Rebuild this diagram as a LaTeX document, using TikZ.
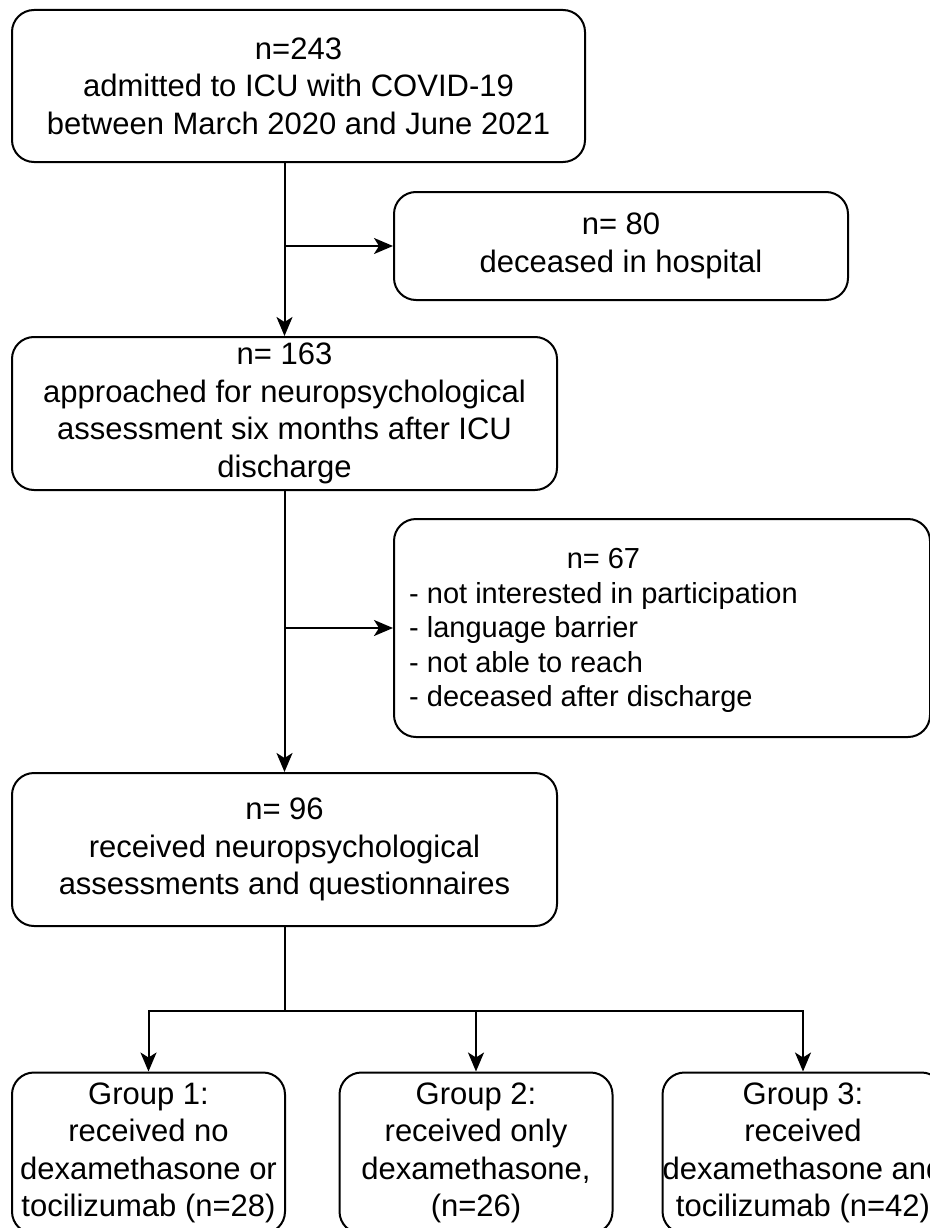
\documentclass[tikz,border=0pt]{standalone}
\usepackage{fontspec}
\setmainfont{Liberation Sans}
\usetikzlibrary{arrows.meta}
\begin{document}
\begin{tikzpicture}[x=1pt,y=-1pt,
  box/.style={draw, line width=2pt, rounded corners=22pt, align=center, inner sep=0pt,
    font=\fontsize{31}{37.5}\selectfont},
  conn/.style={line width=2pt},
  arr/.style={conn, -{Stealth[length=19pt,width=16pt,inset=5pt]}}]
\useasboundingbox (0,0) rectangle (929,1228);

\node[box, minimum width=573pt, minimum height=152pt] (b1) at (298.5,86)
  {n=243\\admitted to ICU with COVID-19\\between March 2020 and June 2021};
\node[box, minimum width=454pt, minimum height=108pt] (b80) at (621,246)
  {n= 80\\deceased in hospital};
\node[box, minimum width=545pt, minimum height=153pt] (b163) at (284.5,413.5)
  {n= 163\\approached for neuropsychological\\assessment six months after ICU\\discharge};
\node[box, minimum width=536pt, minimum height=218pt] (b67) at (662,628) {};
\node[anchor=west, inner sep=0pt, font=\fontsize{29}{34.5}\selectfont] (t67) at ([xshift=16pt,yshift=-3pt]b67.west)
  {\begin{tabular}{@{}l@{}}\multicolumn{1}{@{}c@{}}{n= 67}\\
   - not interested in participation\\
   - language barrier\\
   - not able to reach\\
   - deceased after discharge\end{tabular}};
\node[box, minimum width=545pt, minimum height=153pt] (b96) at (284.5,849.5)
  {n= 96\\received neuropsychological\\assessments and questionnaires};

\node[box, minimum width=273pt, minimum height=161pt] (g1) at (148.5,1153)
  {Group 1:\\received no\\dexamethasone or\\tocilizumab (n=28)};
\node[box, minimum width=273pt, minimum height=161pt] (g2) at (476,1153)
  {Group 2:\\received only\\dexamethasone,\\(n=26)};
\node[box, minimum width=273pt, minimum height=161pt] (g3) at (803,1153)
  {Group 3:\\received\\dexamethasone and\\tocilizumab (n=42)};

\draw[arr] (b1.south -| b163.north) -- (b163.north);
\draw[arr] (b80.west -| b163.north) -- (b80.west);
\draw[arr] (b163.south) -- (b96.north);
\draw[arr] (b67.west -| b163.north) -- (b67.west);
\path (b96.south) ++(0,84) coordinate (split);
\draw[conn] (b96.south) -- (split);
\draw[arr] (split) -| (g1.north);
\draw[arr] (split) -| (g2.north);
\draw[arr] (split) -| (g3.north);
\end{tikzpicture}
\end{document}
